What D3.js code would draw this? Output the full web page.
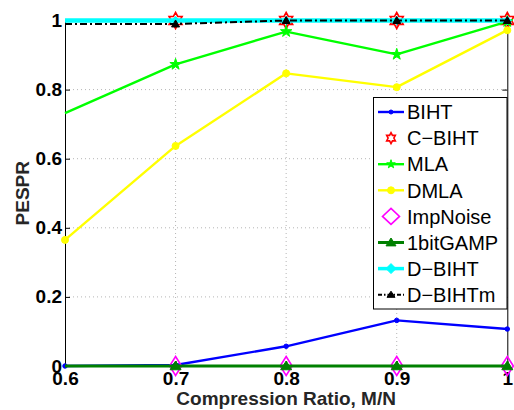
<!DOCTYPE html>
<html>
<head>
<meta charset="utf-8">
<script src="https://cdn.jsdelivr.net/npm/d3@7"></script>
<style>
  html, body { margin: 0; padding: 0; background: #fff; }
  svg { display: block; font-family: "Liberation Sans", Arial, sans-serif; }
</style>
</head>
<body>
<svg id="chart" width="514" height="410"></svg>
<script>
// Compression ratios on the x axis
const ratios = [0.6, 0.7, 0.8, 0.9, 1.0];
const xTickValues = [0.6, 0.7, 0.8, 0.9, 1.0];
const xTickLabels = ["0.6", "0.7", "0.8", "0.9", "1"];
const yTickValues = [0, 0.2, 0.4, 0.6, 0.8, 1.0];
const yTickLabels = ["0", "0.2", "0.4", "0.6", "0.8", "1"];

// PESPR per method (null = not evaluated at that ratio)
const biht      = [0, 0.003, 0.057, 0.132, 0.107];
const cBiht     = [null, 1, 1, 1, 1];
const mla       = [0.732, 0.873, 0.968, 0.902, 0.997];
const dmla      = [0.365, 0.637, 0.847, 0.807, 0.972];
const impNoise  = [null, 0, 0, 0, 0];
const gamp1bit  = [0, 0, 0, 0, 0];
const dBiht     = [1, 1, 1, 1, 1];
const dBihtM    = [0.99, 0.99, 1, 1, 1];

const seriesNames = ["BIHT", "C\u2212BIHT", "MLA", "DMLA", "ImpNoise", "1bitGAMP", "D\u2212BIHT", "D\u2212BIHTm"];
const seriesValues = [biht, cBiht, mla, dmla, impNoise, gamp1bit, dBiht, dBihtM];

// Drawing styles for each method
const styles = [
  { color: "#0000ff", width: 2.4, dash: null, line: true,  marker: "dot",      mSize: [4.5, 4.5],  fill: true,  legendM: [4, 4],   mFirst: true },
  { color: "#ff0000", width: 1.5, dash: null, line: false, marker: "hexagram", mSize: [15, 16], fill: false, legendM: [10, 11], mFirst: false },
  { color: "#00ff00", width: 2.4, dash: null, line: true,  marker: "star",     mSize: [12, 12], fill: true,  legendM: [9, 9],   mFirst: false },
  { color: "#ffff00", width: 2.4, dash: null, line: true,  marker: "dot",      mSize: [7, 7],   fill: true,  legendM: [7, 7],   mFirst: true },
  { color: "#ff00ff", width: 1.6, dash: null, line: false, marker: "diamond",  mSize: [12, 19], fill: false, legendM: [17, 16], mFirst: false },
  { color: "#008000", width: 3,   dash: null, line: true,  marker: "triangle", mSize: [11, 10], fill: true,  legendM: [10, 9],  mFirst: false },
  { color: "#00ffff", width: 4.5, dash: null, line: true,  marker: "diamond",  mSize: [8, 8],   fill: true,  legendM: [10, 10], mFirst: false },
  { color: "#000000", width: 2,   dash: "7,3,2,3", line: true, marker: "triangle", mSize: [8, 8], fill: true, legendM: [8, 7], mFirst: false }
];

const W = 514, H = 410;
const margin = { left: 65, right: 6.7, top: 20.5, bottom: 44 };
const x = d3.scaleLinear().domain([0.6, 1.0]).range([margin.left, W - margin.right]);
const y = d3.scaleLinear().domain([0, 1]).range([H - margin.bottom, margin.top]);

const svg = d3.select("#chart");

// Marker path in local coordinates, w x h box
function markerPath(type, w, h) {
  const rx = w / 2, ry = h / 2;
  if (type === "dot") {
    return d3.arc()({ innerRadius: 0, outerRadius: rx, startAngle: 0, endAngle: 2 * Math.PI });
  }
  if (type === "diamond") {
    return `M0,${-ry}L${rx},0L0,${ry}L${-rx},0Z`;
  }
  if (type === "triangle") {
    return `M0,${-ry}L${rx},${ry * 0.75}L${-rx},${ry * 0.75}Z`;
  }
  const pts = [];
  if (type === "hexagram") {
    for (let i = 0; i < 12; i++) {
      const a = -Math.PI / 2 + i * Math.PI / 6;
      const r = i % 2 === 0 ? 1 : 1 / Math.sqrt(3);
      pts.push([Math.cos(a) * r * rx, Math.sin(a) * r * ry]);
    }
  } else if (type === "star") {
    for (let i = 0; i < 10; i++) {
      const a = -Math.PI / 2 + i * Math.PI / 5;
      const r = i % 2 === 0 ? 1 : 0.38;
      pts.push([Math.cos(a) * r * rx, Math.sin(a) * r * ry]);
    }
  }
  return "M" + pts.map(p => p.join(",")).join("L") + "Z";
}

// Grid (dotted)
const grid = svg.append("g").attr("stroke", "#b5b5b5").attr("stroke-width", 1)
  .attr("stroke-dasharray", "1,3");
grid.selectAll("line.gx").data(xTickValues.slice(1, -1)).join("line")
  .attr("x1", d => x(d)).attr("x2", d => x(d))
  .attr("y1", y(0)).attr("y2", y(1));
grid.selectAll("line.gy").data(yTickValues.slice(1, -1)).join("line")
  .attr("x1", x(0.6)).attr("x2", x(1))
  .attr("y1", d => y(d)).attr("y2", d => y(d));

// Axes with inward ticks
const tickFont = (g) => g.selectAll("text")
  .attr("font-size", 19).attr("font-weight", "bold").attr("fill", "#000")
  .attr("font-family", "'Liberation Sans', Arial, sans-serif");

const xAxis = svg.append("g").attr("transform", `translate(0,${y(0)})`)
  .call(d3.axisBottom(x).tickValues(xTickValues).tickFormat((d, i) => xTickLabels[i])
    .tickSizeInner(-5).tickSizeOuter(0).tickPadding(5.5));
xAxis.call(tickFont);

const yAxis = svg.append("g").attr("transform", `translate(${x(0.6)},0)`)
  .call(d3.axisLeft(y).tickValues(yTickValues).tickFormat((d, i) => yTickLabels[i])
    .tickSizeInner(-5).tickSizeOuter(0).tickPadding(3));
yAxis.call(tickFont);

svg.append("g").attr("transform", `translate(0,${y(1)})`)
  .call(d3.axisTop(x).tickValues(xTickValues).tickFormat("").tickSizeInner(-5).tickSizeOuter(0));
svg.append("g").attr("transform", `translate(${x(1)},0)`)
  .call(d3.axisRight(y).tickValues(yTickValues).tickFormat("").tickSizeInner(-5).tickSizeOuter(0));

svg.selectAll(".domain").attr("stroke", "#000").attr("stroke-width", 1);
svg.selectAll(".tick line").attr("stroke", "#000").attr("stroke-width", 1);

// Series lines and markers
const lineGen = d3.line().defined(d => d[1] !== null).x(d => x(d[0])).y(d => y(d[1]));
seriesValues.forEach((vals, si) => {
  const st = styles[si];
  const pts = ratios.map((r, i) => [r, vals[i]]);
  const g = svg.append("g");
  if (st.line) {
    g.append("path").attr("d", lineGen(pts)).attr("fill", "none")
      .attr("stroke", st.color).attr("stroke-width", st.width)
      .attr("stroke-dasharray", st.dash).attr("stroke-linejoin", "round");
  }
  const mpts = pts.filter((d, i) => d[1] !== null && (st.mFirst || i > 0));
  g.selectAll("path.m").data(mpts).join("path").attr("class", "m")
    .attr("transform", d => `translate(${x(d[0])},${y(d[1])})`)
    .attr("d", markerPath(st.marker, st.mSize[0], st.mSize[1]))
    .attr("fill", st.fill ? st.color : "none")
    .attr("stroke", st.color).attr("stroke-width", st.fill ? 1 : 1.6);
});

// Axis titles
svg.append("text").attr("x", (x(0.6) + x(1)) / 2).attr("y", 405)
  .attr("text-anchor", "middle").attr("font-size", 19).attr("font-weight", "bold")
  .attr("fill", "#262626").text("Compression Ratio, M/N");
svg.append("text").attr("transform", `translate(29,${(y(0) + y(1)) / 2}) rotate(-90)`)
  .attr("text-anchor", "middle").attr("font-size", 19).attr("font-weight", "bold")
  .attr("fill", "#262626").text("PESPR");

// Legend
const lg = svg.append("g");
lg.append("rect").attr("x", 373.5).attr("y", 97.5).attr("width", 133.5).attr("height", 211.5)
  .attr("fill", "#fff").attr("stroke", "#000").attr("stroke-width", 1);
seriesNames.forEach((name, i) => {
  const st = styles[i];
  const cy = 112 + i * 26.1;
  if (st.line) {
    lg.append("line").attr("x1", 378).attr("x2", 404).attr("y1", cy).attr("y2", cy)
      .attr("stroke", st.color).attr("stroke-width", Math.min(st.width, 3.5))
      .attr("stroke-dasharray", st.dash ? "4,2,1.5,2" : null);
  }
  lg.append("path").attr("transform", `translate(391,${cy})`)
    .attr("d", markerPath(st.marker, st.legendM[0], st.legendM[1]))
    .attr("fill", st.fill ? st.color : "none")
    .attr("stroke", st.color).attr("stroke-width", st.fill ? 1 : 1.6);
  lg.append("text").attr("x", 407).attr("y", cy).attr("dy", "0.36em")
    .attr("font-size", 20).attr("fill", "#000").text(name);
});
</script>
</body>
</html>
